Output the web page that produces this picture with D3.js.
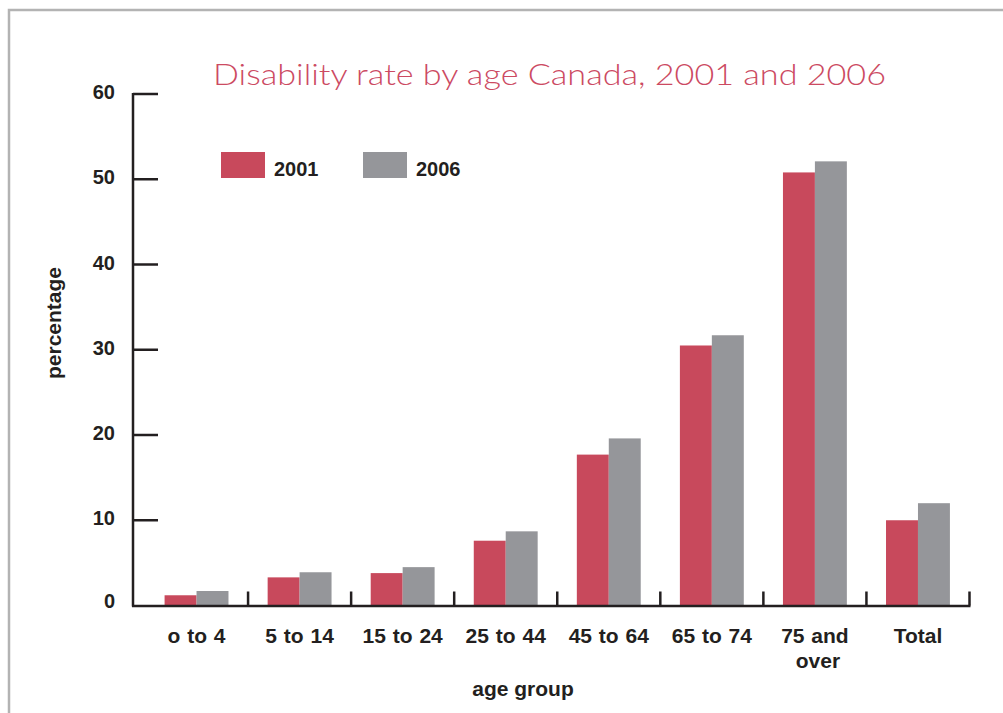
<!DOCTYPE html>
<html>
<head>
<meta charset="utf-8">
<script src="https://cdn.jsdelivr.net/npm/d3@7"></script>
<style>
  html, body { margin: 0; padding: 0; background: #ffffff; }
  svg { display: block; }
</style>
</head>
<body>
<svg id="chart" width="1003" height="713"></svg>
<script>
// ---- data ----
const categories = ["o to 4", "5 to 14", "15 to 24", "25 to 44", "45 to 64", "65 to 74", "75 and over", "Total"];
const series = ["2001", "2006"];
const values2001 = [1.2, 3.3, 3.8, 7.6, 17.7, 30.5, 50.8, 10.0];
const values2006 = [1.7, 3.9, 4.5, 8.7, 19.6, 31.7, 52.1, 12.0];
const yTicks = [0, 10, 20, 30, 40, 50, 60];
const titleText = "Disability rate by age Canada, 2001 and 2006";
const xTitle = "age group";
const yTitle = "percentage";

// ---- setup ----
const svg = d3.select("#chart");
const W = 1003, H = 713;
const RED = "#c8495c", GREY = "#95969a", INK = "#231f20";
const FONT = "'Liberation Sans', Arial, sans-serif";

// frame
svg.append("path")
  .attr("d", `M9,${H + 5} L9,10 L${W + 5},10`)
  .attr("fill", "none")
  .attr("stroke", "#b3b3b3")
  .attr("stroke-width", 2.5);

// title
svg.append("text")
  .attr("x", 549.5).attr("y", 85)
  .attr("text-anchor", "middle")
  .attr("font-family", "Lato, 'Open Sans', sans-serif")
  .attr("font-weight", 300)
  .attr("font-size", 30)
  .attr("fill", "#cc4a62")
  .attr("textLength", 673)
  .attr("lengthAdjust", "spacingAndGlyphs")
  .text(titleText);

const data = categories.map((c, i) => ({ cat: c, vals: [values2001[i], values2006[i]] }));

const x0 = d3.scaleBand().domain(categories).range([145, 969.5]).paddingInner(0).paddingOuter(0);
const bw = x0.bandwidth();
const x1 = d3.scaleBand().domain(series).range([bw * 0.19, bw * 0.81]).padding(0);
const y = d3.scaleLinear().domain([0, 60]).range([605.5, 94]);
const color = d3.scaleOrdinal().domain(series).range([RED, GREY]);

// bars
const groups = svg.append("g").selectAll("g").data(data).join("g")
  .attr("transform", d => `translate(${x0(d.cat)},0)`);
groups.selectAll("rect")
  .data(d => series.map((s, k) => ({ s, v: d.vals[k] })))
  .join("rect")
  .attr("x", d => x1(d.s))
  .attr("width", x1.bandwidth())
  .attr("y", d => y(d.v))
  .attr("height", d => y(0) - y(d.v))
  .attr("fill", d => color(d.s));

// y axis
const yAxisG = svg.append("g").attr("transform", "translate(133,0)");
yAxisG.append("line")
  .attr("x1", 0).attr("x2", 0).attr("y1", y(60) - 1).attr("y2", y(0) + 1)
  .attr("stroke", INK).attr("stroke-width", 2.5);
yAxisG.selectAll("line.tick").data(yTicks.filter(t => t > 0)).join("line")
  .attr("class", "tick")
  .attr("x1", 0).attr("x2", 25)
  .attr("y1", d => y(d)).attr("y2", d => y(d))
  .attr("stroke", INK).attr("stroke-width", 2.5);
yAxisG.selectAll("text").data(yTicks).join("text")
  .attr("x", -18)
  .attr("y", d => (d === 0 ? y(d) - 5 : y(d) - 2))
  .attr("dy", "0.36em")
  .attr("text-anchor", "end")
  .attr("font-family", FONT)
  .attr("font-weight", "bold")
  .attr("font-size", 20)
  .attr("fill", INK)
  .text(d => d);

// x axis
const xAxisG = svg.append("g");
xAxisG.append("line")
  .attr("x1", 132).attr("x2", 970.5).attr("y1", y(0) + 0.5).attr("y2", y(0) + 0.5)
  .attr("stroke", INK).attr("stroke-width", 2.5);
xAxisG.selectAll("line.tick").data(categories).join("line")
  .attr("class", "tick")
  .attr("x1", d => x0(d) + bw).attr("x2", d => x0(d) + bw)
  .attr("y1", y(0)).attr("y2", y(0) - 14)
  .attr("stroke", INK).attr("stroke-width", 2.5);
const xl = xAxisG.selectAll("text").data(categories).join("text")
  .attr("transform", d => `translate(${x0(d) + bw / 2},643)`)
  .attr("text-anchor", "middle")
  .attr("font-family", FONT)
  .attr("font-weight", "bold")
  .attr("font-size", 21)
  .attr("word-spacing", 1)
  .attr("fill", INK);
xl.each(function(d) {
  const t = d3.select(this);
  if (d === "75 and over") {
    t.append("tspan").attr("x", 0).attr("y", 0).text("75 and");
    t.append("tspan").attr("x", 3).attr("y", 25).text("over");
  } else {
    t.append("tspan").attr("x", 0).attr("y", 0).text(d);
  }
});

// axis titles
svg.append("text")
  .attr("x", 523).attr("y", 696)
  .attr("text-anchor", "middle")
  .attr("font-family", FONT)
  .attr("font-weight", "bold")
  .attr("font-size", 21)
  .attr("fill", INK)
  .text(xTitle);
svg.append("text")
  .attr("transform", "translate(61,323) rotate(-90)")
  .attr("text-anchor", "middle")
  .attr("font-family", FONT)
  .attr("font-weight", "bold")
  .attr("font-size", 21)
  .attr("fill", INK)
  .text(yTitle);

// legend
const legend = svg.append("g").selectAll("g").data(series).join("g")
  .attr("transform", (d, i) => `translate(${221 + i * 142},152)`);
legend.append("rect")
  .attr("width", 44).attr("height", 26)
  .attr("fill", d => color(d));
legend.append("text")
  .attr("x", 53).attr("y", 24)
  .attr("font-family", FONT)
  .attr("font-weight", "bold")
  .attr("font-size", 20)
  .attr("fill", INK)
  .text(d => d);
</script>
</body>
</html>
